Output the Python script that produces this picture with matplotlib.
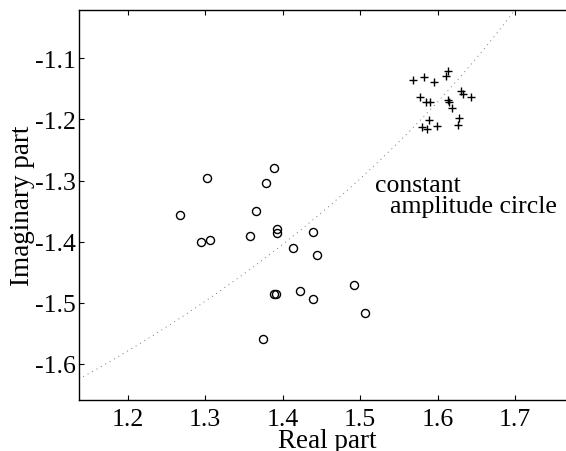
import numpy as np
import matplotlib
matplotlib.use("Agg")
import matplotlib.pyplot as plt

plt.rcParams["font.family"] = "Liberation Serif"
plt.rcParams["axes.unicode_minus"] = False
plt.rcParams["xtick.direction"] = "in"
plt.rcParams["ytick.direction"] = "in"

# open circles
circ_re = [1.303, 1.389, 1.379, 1.268, 1.365, 1.294, 1.306, 1.358, 1.393, 1.393,
           1.439, 1.414, 1.445, 1.422, 1.439, 1.492, 1.507, 1.389, 1.392, 1.375]
circ_im = [-1.296, -1.280, -1.304, -1.357, -1.349, -1.400, -1.397, -1.390, -1.379, -1.386,
           -1.384, -1.410, -1.422, -1.480, -1.494, -1.470, -1.516, -1.486, -1.486, -1.559]

# plus markers
plus_re = [1.568, 1.583, 1.595, 1.613, 1.611, 1.578, 1.585, 1.590, 1.614, 1.615,
           1.619, 1.630, 1.633, 1.643, 1.628, 1.627, 1.589, 1.580, 1.586, 1.599]
plus_im = [-1.136, -1.130, -1.138, -1.121, -1.129, -1.163, -1.171, -1.171, -1.169, -1.172,
           -1.181, -1.154, -1.159, -1.164, -1.198, -1.209, -1.201, -1.212, -1.216, -1.210]

amplitude = 1.983  # radius of the constant amplitude circle

xticks = [1.2, 1.3, 1.4, 1.5, 1.6, 1.7]
yticks = [-1.6, -1.5, -1.4, -1.3, -1.2, -1.1]

fig = plt.figure(figsize=(5.66, 4.52), dpi=100)
ax = fig.add_axes([79 / 566, 51 / 452, 496 / 566, 390 / 452])

theta = np.linspace(-np.pi / 2, 0, 2000)
ax.plot(amplitude * np.cos(theta), amplitude * np.sin(theta), color="#777777",
        lw=0.7, linestyle=(0, (1, 4.2)))

ax.plot(circ_re, circ_im, "o", mfc="none", mec="black", ms=5.8, mew=1.0)
ax.plot(plus_re, plus_im, "+", color="black", ms=6, mew=1.0)

ax.text(1.5193, -1.3170, "constant", fontsize=18.5, va="baseline")
ax.text(1.5386, -1.3514, "amplitude circle", fontsize=18.5, va="baseline")

ax.set_xlim(1.1371, 1.7775)
ax.set_ylim(-1.6589, -1.021)
ax.set_xticks(xticks)
ax.set_yticks(yticks)
ax.set_xticklabels([f"{v:.1f}" for v in xticks])
ax.set_yticklabels([f"{v:.1f}" for v in yticks])
ax.tick_params(top=True, right=True, length=3.5, width=0.8, labelsize=18.5)
ax.tick_params(axis="x", pad=5.5)
ax.tick_params(axis="y", pad=2)
for s in ax.spines.values():
    s.set_linewidth(1.0)

ax.set_xlabel("Real part", fontsize=19.5, labelpad=-1)
ax.set_ylabel("Imaginary part", fontsize=19.5, labelpad=0)

fig.savefig("out.png", dpi=100)
